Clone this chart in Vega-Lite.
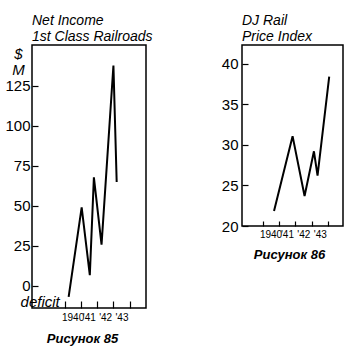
{
  "$schema": "https://vega.github.io/schema/vega-lite/v6.json",
  "background": "white",
  "padding": {"left": 4, "top": 13, "right": 5, "bottom": 5},
  "spacing": 66,
  "config": {
    "view": {"stroke": "black", "strokeWidth": 1.5},
    "font": "Liberation Sans",
    "axis": {"domain": false, "grid": false, "tickColor": "black", "tickWidth": 1.2, "labelColor": "black", "labelFont": "Liberation Sans", "titleColor": "black", "titleFont": "Liberation Sans", "labelOverlap": false},
    "title": {"anchor": "start", "frame": "group", "font": "Liberation Sans", "fontStyle": "italic", "fontWeight": "normal", "fontSize": 14, "color": "black", "lineHeight": 16, "offset": 1}
  },
  "hconcat": [
    {
      "width": 114,
      "height": 263,
      "title": {"text": ["Net Income", "1st Class Railroads"]},
      "encoding": {
        "x": {"field": "year", "type": "quantitative",
          "scale": {"domain": [1938, 1945], "nice": false, "zero": false},
          "axis": {"values": [1940, 1941, 1942, 1943, 1944], "labelOverlap": false, "labelFlush": false,
            "labelExpr": "datum.value == 1940 ? '1940' : datum.value == 1941 ? \"'41\" : datum.value == 1942 ? \"'42\" : datum.value == 1943 ? \"'43\" : ''",
            "labelOffset": 8, "tickSize": -7, "labelPadding": 11, "labelFontSize": 10,
            "title": "Рисунок 85", "titleFontWeight": "bold", "titleFontStyle": "italic", "titleFontSize": 13,
            "titleX": 50, "titleY": 34, "titleAlign": "center", "titleBaseline": "alphabetic"}},
        "y": {"field": "value", "type": "quantitative",
          "scale": {"domain": [-14, 150.5], "nice": false, "zero": false},
          "axis": {"values": [0, 25, 50, 75, 100, 125], "tickSize": -6, "labelPadding": 8, "labelFontSize": 15,
            "title": ["$", "M"], "titleAngle": 0, "titleX": -14, "titleY": 1, "titleAlign": "center", "titleBaseline": "top",
            "titleFontStyle": "italic", "titleFontWeight": "normal", "titleFontSize": 15, "titleLineHeight": 16}}
      },
      "layer": [
        {
          "data": {"values": [
            {"year": 1940.25, "value": -7},
            {"year": 1941.05, "value": 49},
            {"year": 1941.55, "value": 6.5},
            {"year": 1941.8, "value": 67.7},
            {"year": 1942.27, "value": 25.6},
            {"year": 1943.0, "value": 137.7},
            {"year": 1943.2, "value": 64.8}
          ]},
          "mark": {"type": "line", "color": "black", "strokeWidth": 2}
        },
        {
          "data": {"values": [{"year": 1937.3, "value": -10.3, "label": "deficit"}]},
          "mark": {"type": "text", "align": "left", "baseline": "middle", "fontStyle": "italic", "fontSize": 15, "color": "black"},
          "encoding": {
            "text": {"field": "label"}
          }
        }
      ]
    },
    {
      "width": 101,
      "height": 181,
      "title": {"text": ["DJ Rail", "Price Index"]},
      "data": {"values": [
        {"year": 1940.7, "value": 21.85},
        {"year": 1941.83, "value": 31.07},
        {"year": 1942.56, "value": 23.7},
        {"year": 1943.13, "value": 29.2},
        {"year": 1943.35, "value": 26.2},
        {"year": 1944.06, "value": 38.4}
      ]},
      "mark": {"type": "line", "color": "black", "strokeWidth": 2},
      "encoding": {
        "x": {"field": "year", "type": "quantitative",
          "scale": {"domain": [1938.75, 1944.9], "nice": false, "zero": false},
          "axis": {"values": [1940, 1941, 1942, 1943, 1944], "labelOverlap": false, "labelFlush": false,
            "labelExpr": "datum.value == 1940 ? '1940' : datum.value == 1941 ? \"'41\" : datum.value == 1942 ? \"'42\" : datum.value == 1943 ? \"'43\" : ''",
            "labelOffset": 8, "tickSize": -5, "labelPadding": 8, "labelFontSize": 10,
            "title": "Рисунок 86", "titleFontWeight": "bold", "titleFontStyle": "italic", "titleFontSize": 13,
            "titleX": 47, "titleY": 32, "titleAlign": "center", "titleBaseline": "alphabetic"}},
        "y": {"field": "value", "type": "quantitative",
          "scale": {"domain": [20, 42.3], "nice": false, "zero": false},
          "axis": {"values": [20, 25, 30, 35, 40], "tickSize": -6, "labelPadding": 10, "labelFontSize": 15, "title": null}}
      }
    }
  ]
}
